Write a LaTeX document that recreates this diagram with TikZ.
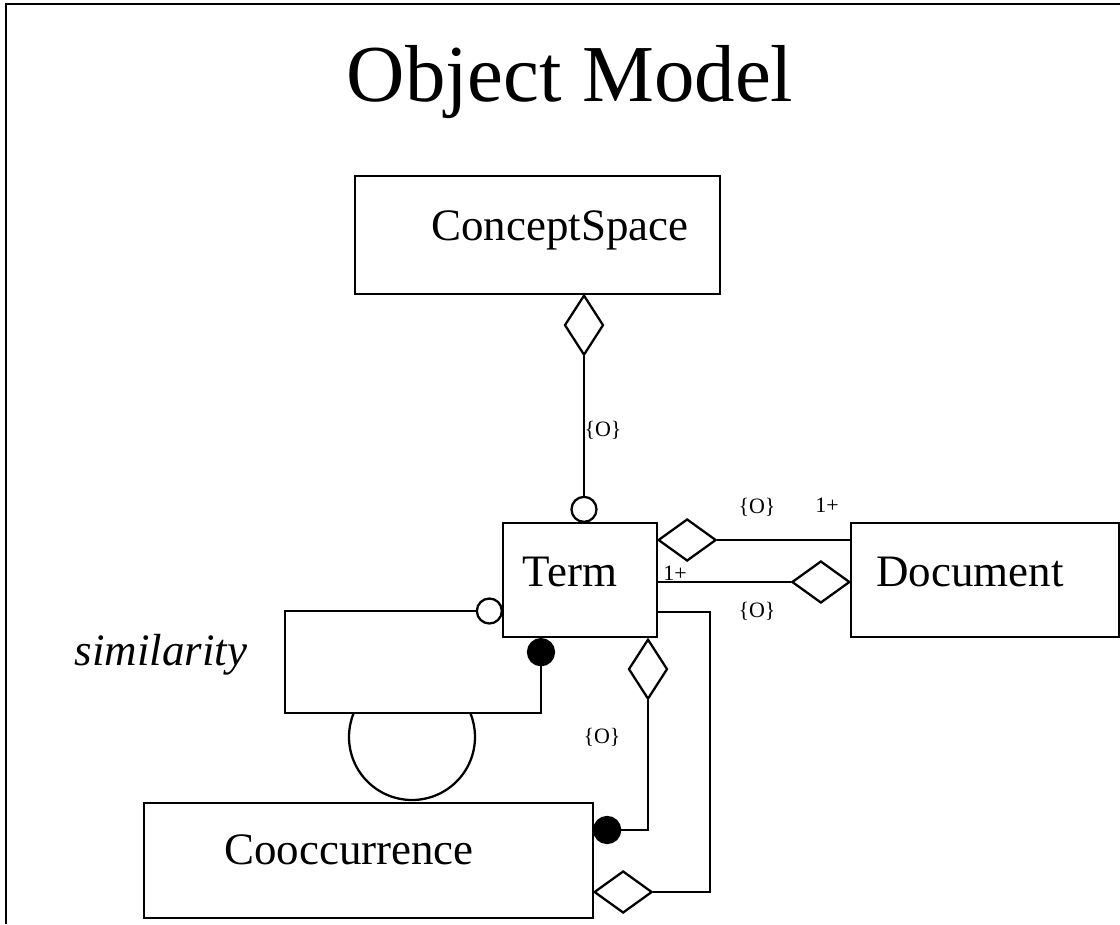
\documentclass[tikz,border=0pt]{standalone}
\usepackage{fontspec}
\setmainfont{Liberation Serif}
\usepackage{tikz}
\usetikzlibrary{positioning,shapes.geometric}
\tikzset{
  cls_box/.style = {rectangle, draw=black, fill=white, inner sep=0pt},
  cls_name/.style = {anchor=base, inner sep=0pt,
    font=\fontsize{25.6}{30}\selectfont},
  agg_v/.style = {diamond, draw=black, fill=white, inner sep=0pt,
    minimum width=0.78cm, minimum height=1.2cm},% losange vertical
  agg_h/.style = {diamond, draw=black, fill=white, inner sep=0pt,
    minimum width=1.16cm, minimum height=0.84cm},% losange horizontal
  opt_end/.style = {circle, draw=black, fill=white, inner sep=0pt,
    minimum size=0.5cm},
  many_end/.style = {circle, draw=black, fill=black, inner sep=0pt,
    minimum size=0.52cm},
  mult/.style = {anchor=base, inner sep=0pt,
    font=\fontsize{12.5}{14}\selectfont}
}

\begin{document}
\begin{tikzpicture}[x=0.02cm, y=-0.02cm, line width=1.3pt]
\useasboundingbox (0,0) rectangle (1120,924);
\draw[line width=1.6pt] (6,924) -- (6,4) -- (1120,4);
\node[anchor=base, inner sep=0pt, font=\fontsize{46}{55}\selectfont]
  (title) at (570,101) {Object Model};

% classes
\node[cls_box, minimum width=7.3cm, minimum height=2.36cm] (cspace) at (537.5,235) {};
\node[cls_name] (cspace_t) at (560,240) {ConceptSpace};
\node[cls_box, minimum width=3.08cm, minimum height=2.28cm] (term) at (580,580) {};
\node[cls_name] (term_t) at (570,586) {Term};
\node[cls_box, minimum width=5.36cm, minimum height=2.28cm] (doc) at (985,580) {};
\node[cls_name] (doc_t) at (970,586) {Document};

% similarity
\begin{scope}
  \clip (0,713) rectangle (1120,803);
  \node[circle, draw=black, inner sep=0pt, minimum size=2.52cm] (sim_c) at (412,737) {};
\end{scope}
\node[cls_box, minimum width=8.98cm, minimum height=2.3cm] (cooc) at (368.5,860.5) {};
\node[cls_name] (cooc_t) at (349,864) {Cooccurrence};
\node[opt_end, anchor=east] (o_sim) at (503,611) {};
\node[many_end, anchor=north] (f_sim) at (541,638) {};
\draw (o_sim.west) -| (285,713) -| (f_sim.south);
\node[cls_name, font=\fontsize{25.6}{30}\selectfont\itshape] (sim_t) at (161,665) {similarity};

% ConceptSpace - Term
\node[agg_v, anchor=north] (d_cs) at (584,294) {};
\node[opt_end, anchor=south] (o_cs) at (584,523) {};
\draw (d_cs.south) -- (o_cs.north);
\node[mult] at (603,436) {\{O\}};

% Term - Document
\node[agg_h, anchor=west] (d_td) at (657,540) {};
\draw (d_td.east) -- (d_td.east -| doc.west);
\node[agg_h, anchor=east] (d_dt) at (851,582) {};
\draw (term.east |- d_dt.west) -- (d_dt.west);
\node[mult] at (757,513) {\{O\}};
\node[mult] at (827,512) {1+};
\node[mult] at (675,580) {1+};
\node[mult] at (757,617) {\{O\}};

% Term - Cooccurrence
\node[agg_v, anchor=north] (d_tc) at (648,638) {};
\node[many_end, anchor=west] (f_tc) at (593,830) {};
\draw (d_tc.south) |- (f_tc.east);
\node[mult] at (602,743) {\{O\}};
\coordinate (t_r) at (657,612);
\node[agg_h, anchor=west] (d_ct) at (593,892) {};
\draw (term.east |- t_r) -- ++(52,0) |- (d_ct.east);
\end{tikzpicture}
\end{document}
